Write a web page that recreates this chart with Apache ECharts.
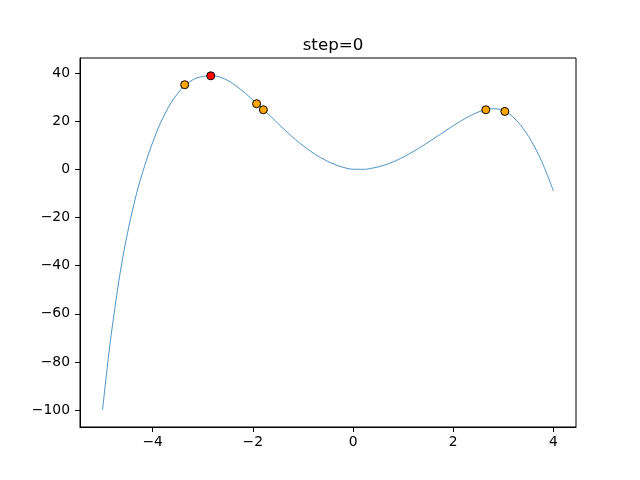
<!DOCTYPE html>
<html>
<head>
<meta charset="utf-8">
<script src="https://cdn.jsdelivr.net/npm/echarts@6/dist/echarts.min.js"></script>
<style>html,body{margin:0;padding:0;background:#fff}#c{width:640px;height:480px}</style>
</head>
<body>
<div id="c"></div>
<script>
// Curve samples read (and estimated) from the reference
var curveX = [-5.0, -4.875, -4.75, -4.625, -4.5, -4.375, -4.25, -4.0, -3.75, -3.5, -3.25, -3.0, -2.8, -2.6, -2.4, -2.2, -2.0, -1.8, -1.6, -1.4, -1.2, -1.0, -0.8, -0.6, -0.4, -0.2, 0.0, 0.2, 0.4, 0.6, 0.8, 1.0, 1.2, 1.4, 1.6, 1.8, 2.0, 2.2, 2.4, 2.6, 2.8, 3.0, 3.2, 3.4, 3.6, 3.8, 4.0];
var curveY = [-100, -76.6, -57.05, -40.0, -26.25, -14.6, -4.65, 11.2, 23.3, 31.6, 36.6, 38.6, 38.9, 37.9, 35.7, 32.5, 28.9, 25.1, 21.15, 17.15, 13.35, 9.9, 6.9, 4.4, 2.35, 0.9, 0.1, 0.05, 0.61, 1.66, 3.16, 5.11, 7.41, 9.96, 12.66, 15.41, 18.13, 20.73, 22.93, 24.53, 25.23, 24.43, 21.63, 16.88, 10.28, 1.68, -8.97];
// Highlighted points
var orangeX = [-3.36, -1.925, -1.79, 2.65, 3.03];
var orangeY = [35.2, 27.3, 24.8, 24.8, 24.1];
var redX = [-2.84];
var redY = [38.9];
// Tick labels
var xTicks = [-4, -2, 0, 2, 4];
var yTicks = [-100, -80, -60, -40, -20, 0, 20, 40];
var titleText = 'step=0';

function pairs(xs, ys) { return xs.map(function (x, i) { return [x, ys[i]]; }); }
function fmt(v) { return String(v).replace('-', '\u2212'); }

var font = 'DejaVu Sans';
var chart = echarts.init(document.getElementById('c'), null, {renderer: 'canvas'});
chart.setOption({
  animation: false,
  backgroundColor: '#ffffff',
  title: {
    text: titleText, left: 328, textAlign: 'center', top: 32,
    textStyle: {fontFamily: font, fontSize: 16.7, fontWeight: 'normal', color: '#000'}
  },
  grid: {left: 80, right: 64, top: 58, bottom: 53, show: true, borderColor: '#000', borderWidth: 1, backgroundColor: 'transparent'},
  xAxis: {
    type: 'value', min: -5.45, max: 4.45,
    splitLine: {show: false},
    axisLine: {show: true, onZero: false, lineStyle: {color: '#000', width: 1}},
    axisTick: {show: true, length: 5, customValues: xTicks, lineStyle: {color: '#000'}},
    axisLabel: {customValues: xTicks, formatter: fmt, margin: 8, color: '#000', fontFamily: font, fontSize: 13.9}
  },
  yAxis: {
    type: 'value', min: -107, max: 46.3,
    splitLine: {show: false},
    axisLine: {show: true, onZero: false, lineStyle: {color: '#000', width: 1}},
    axisTick: {show: true, length: 5, customValues: yTicks, lineStyle: {color: '#000'}},
    axisLabel: {customValues: yTicks, formatter: fmt, margin: 10, color: '#000', fontFamily: font, fontSize: 13.9}
  },
  series: [
    {
      type: 'line', data: pairs(curveX, curveY), smooth: 0.4, showSymbol: false,
      lineStyle: {color: '#1f77b4', width: 0.8}, z: 2, silent: true
    },
    {
      type: 'scatter', data: pairs(orangeX, orangeY), symbol: 'circle', symbolSize: 8,
      itemStyle: {color: '#ffa500', borderColor: '#000', borderWidth: 1, opacity: 1}, z: 3
    },
    {
      type: 'scatter', data: pairs(redX, redY), symbol: 'circle', symbolSize: 8,
      itemStyle: {color: '#ff0000', borderColor: '#000', borderWidth: 1, opacity: 1}, z: 4
    }
  ]
});
</script>
</body>
</html>
